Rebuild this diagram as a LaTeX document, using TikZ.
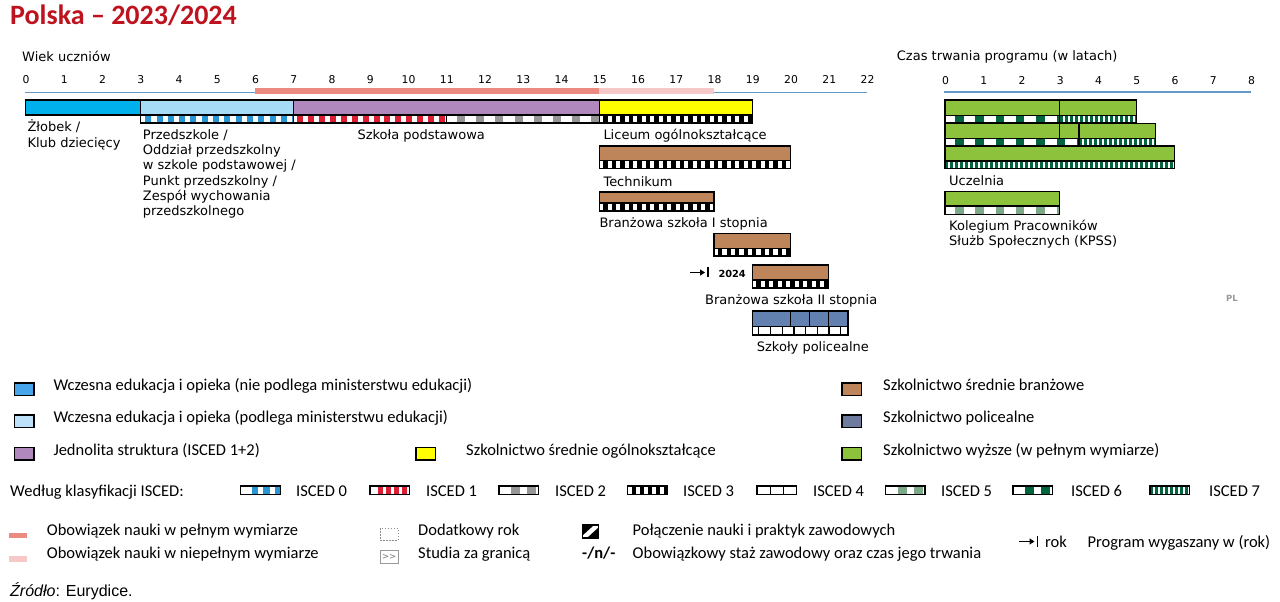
\documentclass[tikz,border=0pt]{standalone}
\usepackage{fontspec}
\setmainfont{DejaVu Sans}
\newfontfamily\legf{Carlito}
\newfontfamily\arf{Liberation Sans}
\usetikzlibrary{arrows.meta}
\definecolor{titlered}{RGB}{190,18,30}
\definecolor{cblue}{RGB}{0,176,236}
\definecolor{lblue}{RGB}{166,220,246}
\definecolor{legblue}{RGB}{70,165,235}
\definecolor{leglblue}{RGB}{190,225,250}
\definecolor{purp}{RGB}{176,136,190}
\definecolor{yel}{RGB}{255,255,0}
\definecolor{brwn}{RGB}{190,132,90}
\definecolor{poli}{RGB}{98,128,176}
\definecolor{polileg}{RGB}{110,122,158}
\definecolor{grn}{RGB}{140,194,60}
\definecolor{axblue}{RGB}{100,152,200}
\definecolor{salmon}{RGB}{234,138,128}
\definecolor{lpink}{RGB}{246,200,200}
\definecolor{isa}{RGB}{40,150,210}
\definecolor{isb}{RGB}{220,30,50}
\definecolor{isc}{RGB}{150,150,150}
\definecolor{ise}{RGB}{125,168,135}
\definecolor{isf}{RGB}{0,100,60}
\definecolor{isg}{RGB}{0,100,60}
% strip: x0, x1, y0, y1, colour, period, dark width, offset
\newcommand{\istrip}[8]{%
  \begin{scope}
    \clip (#1,#3) rectangle (#2,#4);
    \fill[white] (#1,#3) rectangle (#2,#4);
    \pgfmathtruncatemacro{\stripN}{(#2-#1)/#6+1}
    \foreach \k in {0,...,\stripN}{
      \fill[#5] ({#1+#8+\k*#6},#3) rectangle ({#1+#8+\k*#6+#7},#4);
    }
  \end{scope}
  \draw[bord] (#1,#3) rectangle (#2,#4);
}
\begin{document}
\begin{tikzpicture}[x=1pt,y=-1pt,
  bord/.style={draw=black,line width=1.2pt},
  lbl/.style={font=\fontsize{13}{15}\selectfont,inner sep=0pt,anchor=base west},
  tick/.style={font=\fontsize{10.8}{13}\selectfont,inner sep=0pt,anchor=base},
  leg/.style={font=\legf\fontsize{16.5}{19}\selectfont,inner sep=0pt,anchor=base west},
  legbox/.style={draw=black,line width=1.4pt},
]
\path[use as bounding box, fill=white] (0,0) rectangle (1280,602);

% title
\node[anchor=base west, inner sep=0pt, font=\legf\bfseries\fontsize{28}{30}\selectfont, text=titlered] (title) at (10,24.5) {Polska – 2023/2024};

% axis headers
\node[lbl] (wiek) at (22,62) {Wiek uczniów};
\node[lbl] (czas) at (896.7,60) {Czas trwania programu (w latach)};

% ticks
\foreach \a in {0,...,22} \node[tick] (age\a) at ({26+38.25*\a},84) {\a};
\foreach \d in {0,...,8} \node[tick] (dur\d) at ({945.5+38.25*\d},84.5) {\d};

% axis lines
\draw[axblue, line width=1.5pt] (24.5,92.5) -- (255,92.5);
\fill[salmon] (255,88.5) rectangle (599.25,93.5);
\fill[lpink] (599.25,88.5) rectangle (714,93.5);
\draw[axblue, line width=1.5pt] (714,92.5) -- (867,92.5);
\draw[axblue, line width=1.5pt] (944,92) -- (1250.5,92);

% --- left bars ---
\draw[bord, fill=cblue] (25.5,100) rectangle (140.25,115);
\draw[bord, fill=lblue] (140.25,100) rectangle (293.25,115);
\istrip{140.25}{293.25}{115}{123}{isa}{11.3}{6}{5}
\draw[bord, fill=purp] (293.25,100) rectangle (599.25,115);
\istrip{293.25}{446.25}{115}{123}{isb}{10.9}{6}{4}
\istrip{446.25}{599.25}{115}{123}{isc}{19.1}{8}{11}
\draw[bord, fill=yel] (599.25,100) rectangle (752.25,115);
\istrip{599.25}{752.25}{115}{123}{black}{8.5}{4.3}{4}
\draw[bord, fill=brwn] (599.25,146) rectangle (790.5,160.7);
\istrip{599.25}{790.5}{160.7}{168.7}{black}{8.5}{4.3}{4}
\draw[bord, fill=brwn] (599.25,192) rectangle (714,203);
\istrip{599.25}{714}{203}{211}{black}{8.5}{4.3}{4}
\draw[bord, fill=brwn] (714,233.3) rectangle (790.5,248.3);
\istrip{714}{790.5}{248.3}{256}{black}{8.5}{4.3}{4}
\draw[bord, fill=brwn] (752.25,265) rectangle (828.75,280);
\istrip{752.25}{828.75}{280}{288}{black}{8.5}{4.3}{4}
\draw[bord, fill=poli] (752.25,311) rectangle (847.9,326.5);
\draw[bord] (790.5,311) -- (790.5,326.5);
\draw[bord] (809.6,311) -- (809.6,326.5);
\draw[bord] (828.75,311) -- (828.75,326.5);
\istrip{752.25}{847.9}{326.5}{335}{black}{11.7}{1.2}{6}

% expiring programme marker
\coordinate (arrS) at (690,272.5);
\coordinate (arrE) at (705,272.5);
\coordinate (barT) at (707.7,267.3);
\coordinate (barB) at (707.7,277.3);
\draw[line width=1.6pt, -{Triangle[length=5pt,width=6pt]}] (arrS) -- (arrE);
\draw[line width=1.6pt] (barT) -- (barB);
\node[anchor=base west, inner sep=0pt, font=\bfseries\fontsize{9.8}{11}\selectfont] (y2024) at (718.3,277.3) {2024};

% --- right bars ---
\draw[bord, fill=grn] (945,100) rectangle (1059.75,115.5);
\draw[bord, fill=grn] (1059.75,100) rectangle (1136.25,115.5);
\istrip{945}{1059.75}{115.5}{122.7}{isf}{20.3}{8.5}{10}
\istrip{1059.75}{1136.25}{115.5}{122.7}{isg}{5}{3}{0}
\draw[bord, fill=grn] (945,123.3) rectangle (1059.75,138.3);
\draw[bord, fill=grn] (1059.75,123.3) rectangle (1078.9,138.3);
\draw[bord, fill=grn] (1078.9,123.3) rectangle (1155.4,138.3);
\istrip{945}{1078.9}{138.3}{145.3}{isf}{20.3}{8.5}{10}
\istrip{1078.9}{1155.4}{138.3}{145.3}{isg}{5}{3}{0}
\draw[bord, fill=grn] (945,146) rectangle (1174.5,161);
\istrip{945}{1174.5}{161}{168.3}{isg}{5}{3}{0}
\draw[bord, fill=grn] (945,191.7) rectangle (1059.75,206);
\istrip{945}{1059.75}{206}{214.3}{ise}{20.3}{8.5}{10}

% --- labels ---
\node[lbl] (zl1) at (27.3,131.5) {Żłobek /};
\node[lbl] (zl2) at (27.3,147.5) {Klub dziecięcy};
\node[lbl] (pr1) at (142.7,139.3) {Przedszkole /};
\node[lbl] (pr2) at (142.7,154.6) {Oddział przedszkolny};
\node[lbl] (pr3) at (142.7,169.9) {w szkole podstawowej /};
\node[lbl] (pr4) at (142.7,185.2) {Punkt przedszkolny /};
\node[lbl] (pr5) at (142.7,200.5) {Zespół wychowania};
\node[lbl] (pr6) at (142.7,215.8) {przedszkolnego};
\node[lbl] (sp) at (357.3,139.5) {Szkoła podstawowa};
\node[lbl] (lic) at (603.3,139) {Liceum ogólnokształcące};
\node[lbl] (tech) at (603.3,186) {Technikum};
\node[lbl] (br1) at (599.3,227.3) {Branżowa szkoła I stopnia};
\node[lbl] (br2) at (705,304.3) {Branżowa szkoła II stopnia};
\node[lbl] (pol) at (756.7,351) {Szkoły policealne};
\node[lbl] (ucz) at (949,185) {Uczelnia};
\node[lbl] (kp1) at (949,230) {Kolegium Pracowników};
\node[lbl] (kp2) at (949,245.5) {Służb Społecznych (KPSS)};
\node[anchor=base west, inner sep=0pt, font=\bfseries\fontsize{8.5}{10}\selectfont, text=black!40] (pl) at (1226,301) {PL};

% --- legend: categories ---
\draw[legbox, fill=legblue] (14.5,383) rectangle (34,395.5);
\node[leg] (lg1) at (53.3,390) {Wczesna edukacja i opieka (nie podlega ministerstwu edukacji)};
\draw[legbox, fill=leglblue] (14.5,415) rectangle (34,427.5);
\node[leg] (lg2) at (53.3,422.7) {Wczesna edukacja i opieka (podlega ministerstwu edukacji)};
\draw[legbox, fill=purp] (14.5,447.5) rectangle (34,460);
\node[leg] (lg3) at (53.3,455) {Jednolita struktura (ISCED 1+2)};
\draw[legbox, fill=yel] (416,447.5) rectangle (435.5,460);
\node[leg] (lg4) at (466,455) {Szkolnictwo średnie ogólnokształcące};
\draw[legbox, fill=brwn] (842,383) rectangle (861.5,395.5);
\node[leg] (lg5) at (883,390) {Szkolnictwo średnie branżowe};
\draw[legbox, fill=polileg] (842,415) rectangle (861.5,427.5);
\node[leg] (lg6) at (883,422.7) {Szkolnictwo policealne};
\draw[legbox, fill=grn] (842,447.5) rectangle (861.5,460);
\node[leg] (lg7) at (883,455) {Szkolnictwo wyższe (w pełnym wymiarze)};

% --- legend: ISCED ---
\node[leg] (wg) at (10,496) {Według klasyfikacji ISCED:};
\istrip{240.7}{280.2}{486}{494.5}{isa}{11.5}{6.5}{11}
\node[leg] (i0) at (296,496) {ISCED 0};
\istrip{370}{409.5}{486}{494.5}{isb}{8}{5}{8}
\node[leg] (i1) at (426,496) {ISCED 1};
\istrip{499}{538.5}{486}{494.5}{isc}{16}{9}{12}
\node[leg] (i2) at (555,496) {ISCED 2};
\istrip{627.5}{667}{486}{494.5}{black}{8}{4}{4}
\node[leg] (i3) at (683,496) {ISCED 3};
\istrip{757}{796.5}{486}{494.5}{black}{13}{1.2}{13}
\node[leg] (i4) at (813,496) {ISCED 4};
\istrip{885.5}{925}{486}{494.5}{ise}{16}{9}{12}
\node[leg] (i5) at (941,496) {ISCED 5};
\istrip{1013}{1052.5}{486}{494.5}{isf}{16}{9}{12}
\node[leg] (i6) at (1071,496) {ISCED 6};
\istrip{1150}{1189.5}{486}{494.5}{isg}{5}{3}{0}
\node[leg] (i7) at (1209,496) {ISCED 7};

% --- legend: bottom ---
\fill[salmon] (9.3,532.7) rectangle (27.3,538.3);
\node[leg] (ob1) at (46.7,535.7) {Obowiązek nauki w pełnym wymiarze};
\fill[lpink] (9.3,556.2) rectangle (27.3,561.7);
\node[leg] (ob2) at (46.7,558.3) {Obowiązek nauki w niepełnym wymiarze};

\draw[black!45, line width=0.8pt, dash pattern=on 1.5pt off 1.5pt] (380,528.3) rectangle (398.3,540);
\node[leg] (dod) at (418,535.7) {Dodatkowy rok};
\draw[black!40, line width=0.8pt] (380,550) rectangle (398.3,563.3);
\node[inner sep=0pt, font=\fontsize{8.5}{10}\selectfont, text=black!55] (gt) at (389.2,557) {\textgreater\kern-0.3pt\textgreater};
\node[leg] (stu) at (418,558.3) {Studia za granicą};

\draw[black, line width=1.8pt, fill=white] (582.5,525) rectangle (598.5,538);
\fill[black] (582.5,525) -- (594,525) -- (582.5,535.5) -- cycle;
\fill[black] (598.5,538) -- (587,538) -- (598.5,527.5) -- cycle;
\node[leg] (pol2) at (632.5,535.7) {Połączenie nauki i praktyk zawodowych};
\node[leg, font=\legf\bfseries\fontsize{16.5}{19}\selectfont] (staz) at (582,558.3) {-/n/-};
\node[leg] (obz) at (632.5,558.3) {Obowiązkowy staż zawodowy oraz czas jego trwania};

\coordinate (lgS) at (1019,541.5);
\coordinate (lgE) at (1034.5,541.5);
\coordinate (lgT) at (1037.5,536);
\coordinate (lgB) at (1037.5,547);
\draw[line width=1.6pt, -{Triangle[length=5pt,width=6pt]}] (lgS) -- (lgE);
\draw[line width=1.6pt] (lgT) -- (lgB);
\node[leg] (rok) at (1045,547) {rok};
\node[leg] (prog) at (1087.5,547) {Program wygaszany w (rok)};

\node[anchor=base west, inner sep=0pt, font=\arf\fontsize{16}{18}\selectfont] (src) at (10,596.7) {\textit{Źródło}: Eurydice.};
\end{tikzpicture}
\end{document}
